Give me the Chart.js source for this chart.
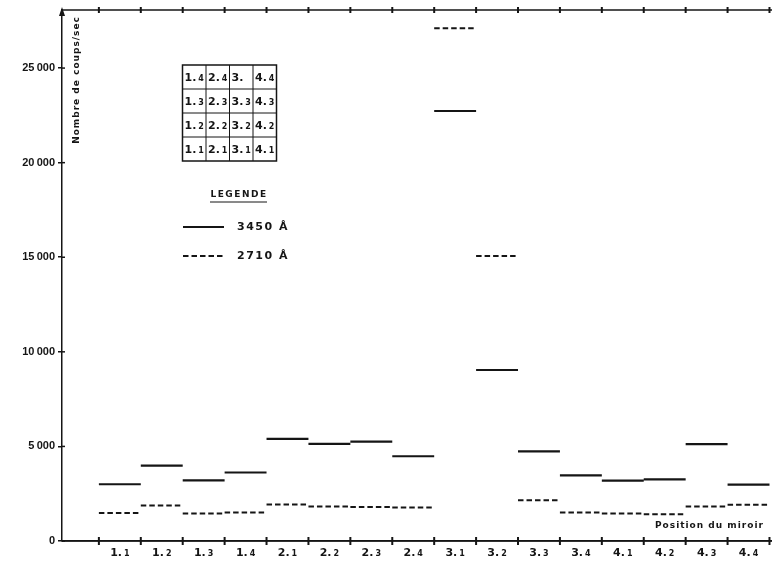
<!DOCTYPE html>
<html>
<head>
<meta charset="utf-8">
<script src="https://cdn.jsdelivr.net/npm/chart.js@4/dist/chart.umd.min.js"></script>
<style>
  html, body { margin: 0; padding: 0; background: #fff; }
  #wrap { width: 772px; height: 568px; }
</style>
</head>
<body>
<div id="wrap"><canvas id="chart" width="772" height="568"></canvas></div>
<script>
// mirror positions along the x axis
const categories = ["1.1", "1.2", "1.3", "1.4", "2.1", "2.2", "2.3", "2.4",
  "3.1", "3.2", "3.3", "3.4", "4.1", "4.2", "4.3", "4.4"];
// counts per second, 3450 A (solid) and 2710 A (dashed)
const counts3450 = [3000, 3980, 3200, 3620, 5400, 5130, 5250, 4480,
  22730, 9040, 4740, 3470, 3190, 3260, 5120, 2980];
const counts2710 = [1480, 1880, 1450, 1500, 1930, 1820, 1800, 1770,
  27110, 15060, 2150, 1500, 1450, 1410, 1820, 1920];
const yTicks = [0, 5000, 10000, 15000, 20000, 25000];
// mirror layout inset, top row first
const insetRows = [
  ["1.4", "2.4", "3.", "4.4"],
  ["1.3", "2.3", "3.3", "4.3"],
  ["1.2", "2.2", "3.2", "4.2"],
  ["1.1", "2.1", "3.1", "4.1"],
];
const legendItems = ["3450 Å", "2710 Å"];

const INK = "#151515";
const FONT = "'DejaVu Sans', sans-serif";

// one flat segment per position, broken by nulls
const segments = (values) => {
  const pts = [];
  values.forEach((v, i) => {
    pts.push({ x: i, y: v }, { x: i + 1, y: v }, { x: i + 1, y: null });
  });
  return pts;
};

const fmt = (v) => {
  if (v === 0) return "0";
  const s = String(v);
  return s.slice(0, s.length - 3) + "\u2009" + s.slice(-3);
};

// "1.2" drawn as a big "1." and a smaller "2"
const drawIndex = (ctx, label, x, y, bigSize, smallSize, align) => {
  const dot = label.indexOf(".");
  const main = label.slice(0, dot + 1);
  const sub = label.slice(dot + 1);
  ctx.font = `bold ${bigSize}px ${FONT}`;
  const w1 = ctx.measureText(main).width;
  ctx.font = `bold ${smallSize}px ${FONT}`;
  const w2 = ctx.measureText(sub).width;
  const gap = 2;
  let start = x;
  if (align === "center") start = x - (w1 + gap + w2) / 2;
  ctx.textAlign = "left";
  ctx.textBaseline = "alphabetic";
  ctx.font = `bold ${bigSize}px ${FONT}`;
  ctx.fillText(main, start, y);
  ctx.font = `bold ${smallSize}px ${FONT}`;
  ctx.fillText(sub, start + w1 + gap, y);
};

const decorations = {
  id: "decorations",
  afterDraw(chart) {
    const { ctx, chartArea } = chart;
    const xs = chart.scales.x;
    const ys = chart.scales.y;
    const left = chartArea.left;
    const top = chartArea.top;
    const bottom = chartArea.bottom;
    ctx.save();
    ctx.strokeStyle = INK;
    ctx.fillStyle = INK;

    // top frame line with tick marks
    ctx.lineWidth = 1.5;
    ctx.beginPath();
    ctx.moveTo(left, top);
    ctx.lineTo(chart.width, top);
    ctx.stroke();

    // arrow on y axis
    ctx.beginPath();
    ctx.moveTo(left, top - 3);
    ctx.lineTo(left - 3, top + 6);
    ctx.lineTo(left + 3, top + 6);
    ctx.closePath();
    ctx.fill();

    // bottom axis extended to the edge
    ctx.beginPath();
    ctx.moveTo(left, bottom);
    ctx.lineTo(chart.width, bottom);
    ctx.stroke();

    // boundary tick marks, top and bottom
    ctx.lineWidth = 2;
    for (let i = 0; i <= categories.length; i++) {
      const px = xs.getPixelForValue(i);
      ctx.beginPath();
      ctx.moveTo(px, bottom - 4);
      ctx.lineTo(px, bottom + 4);
      ctx.moveTo(px, top - 3);
      ctx.lineTo(px, top + 3);
      ctx.stroke();
    }

    // inner half of y ticks
    ctx.lineWidth = 1.5;
    yTicks.forEach((v) => {
      const py = ys.getPixelForValue(v);
      ctx.beginPath();
      ctx.moveTo(left, py);
      ctx.lineTo(left + 3, py);
      ctx.stroke();
    });

    // category labels
    categories.forEach((c, i) => {
      drawIndex(ctx, c, xs.getPixelForValue(i + 0.5), bottom + 15, 11, 8, "center");
    });

    // axis titles
    ctx.font = `bold 9px ${FONT}`;
    ctx.letterSpacing = "1px";
    ctx.textAlign = "left";
    ctx.textBaseline = "middle";
    ctx.fillText("Position du miroir", 655, 526);

    ctx.save();
    ctx.translate(77, 80);
    ctx.rotate(-Math.PI / 2);
    ctx.textAlign = "center";
    ctx.fillText("Nombre de coups/sec", 0, 0);
    ctx.restore();

    // inset grid
    const gx = 182.5, gy = 65, cw = 23.5, ch = 24;
    ctx.lineWidth = 1.5;
    ctx.strokeRect(gx, gy, cw * 4, ch * 4);
    ctx.lineWidth = 1;
    for (let k = 1; k < 4; k++) {
      ctx.beginPath();
      ctx.moveTo(gx + k * cw, gy);
      ctx.lineTo(gx + k * cw, gy + ch * 4);
      ctx.moveTo(gx, gy + k * ch);
      ctx.lineTo(gx + cw * 4, gy + k * ch);
      ctx.stroke();
    }
    ctx.letterSpacing = "0px";
    insetRows.forEach((row, r) => {
      row.forEach((cell, c) => {
        drawIndex(ctx, cell, gx + c * cw + 2, gy + r * ch + 16, 11, 8, "left");
      });
    });

    // legend
    ctx.font = `bold 9px ${FONT}`;
    ctx.letterSpacing = "1.5px";
    ctx.textAlign = "center";
    ctx.textBaseline = "middle";
    ctx.fillText("LEGENDE", 239, 195);
    ctx.lineWidth = 1;
    ctx.beginPath();
    ctx.moveTo(210, 202);
    ctx.lineTo(267, 202);
    ctx.stroke();

    ctx.lineWidth = 2;
    ctx.beginPath();
    ctx.moveTo(183, 227);
    ctx.lineTo(224, 227);
    ctx.stroke();
    ctx.setLineDash([5.5, 3]);
    ctx.beginPath();
    ctx.moveTo(183, 256);
    ctx.lineTo(224, 256);
    ctx.stroke();
    ctx.setLineDash([]);

    ctx.font = `bold 11px ${FONT}`;
    ctx.letterSpacing = "1.5px";
    ctx.textAlign = "left";
    ctx.fillText(legendItems[0], 237, 227);
    ctx.fillText(legendItems[1], 237, 256);

    ctx.restore();
  },
};

new Chart(document.getElementById("chart"), {
  type: "line",
  data: {
    datasets: [
      {
        label: legendItems[0],
        data: segments(counts3450),
        borderColor: INK,
        borderWidth: 2.2,
        pointRadius: 0,
        spanGaps: false,
      },
      {
        label: legendItems[1],
        data: segments(counts2710),
        borderColor: INK,
        borderWidth: 2,
        borderDash: [5.5, 3],
        pointRadius: 0,
        spanGaps: false,
      },
    ],
  },
  options: {
    responsive: false,
    animation: false,
    layout: { padding: { top: 10, right: 0, left: 0, bottom: 0 } },
    plugins: {
      legend: { display: false },
      tooltip: { enabled: false },
    },
    scales: {
      x: {
        type: "linear",
        min: -0.88,
        max: 16.06,
        ticks: { display: false },
        grid: { display: false },
        border: { display: true, color: INK, width: 1.5 },
        afterFit: (s) => { s.height = 27; },
      },
      y: {
        type: "linear",
        min: 0,
        max: 28070,
        afterBuildTicks: (s) => { s.ticks = yTicks.map((v) => ({ value: v })); },
        ticks: {
          callback: (v) => fmt(v),
          color: INK,
          padding: 3,
          font: { family: "Liberation Sans", weight: "bold", size: 11 },
        },
        grid: { drawOnChartArea: false, tickLength: 4, color: INK, lineWidth: 1.5 },
        border: { display: true, color: INK, width: 1.5 },
        afterFit: (s) => { s.width = 62; },
      },
    },
  },
  plugins: [decorations],
});
</script>
</body>
</html>
